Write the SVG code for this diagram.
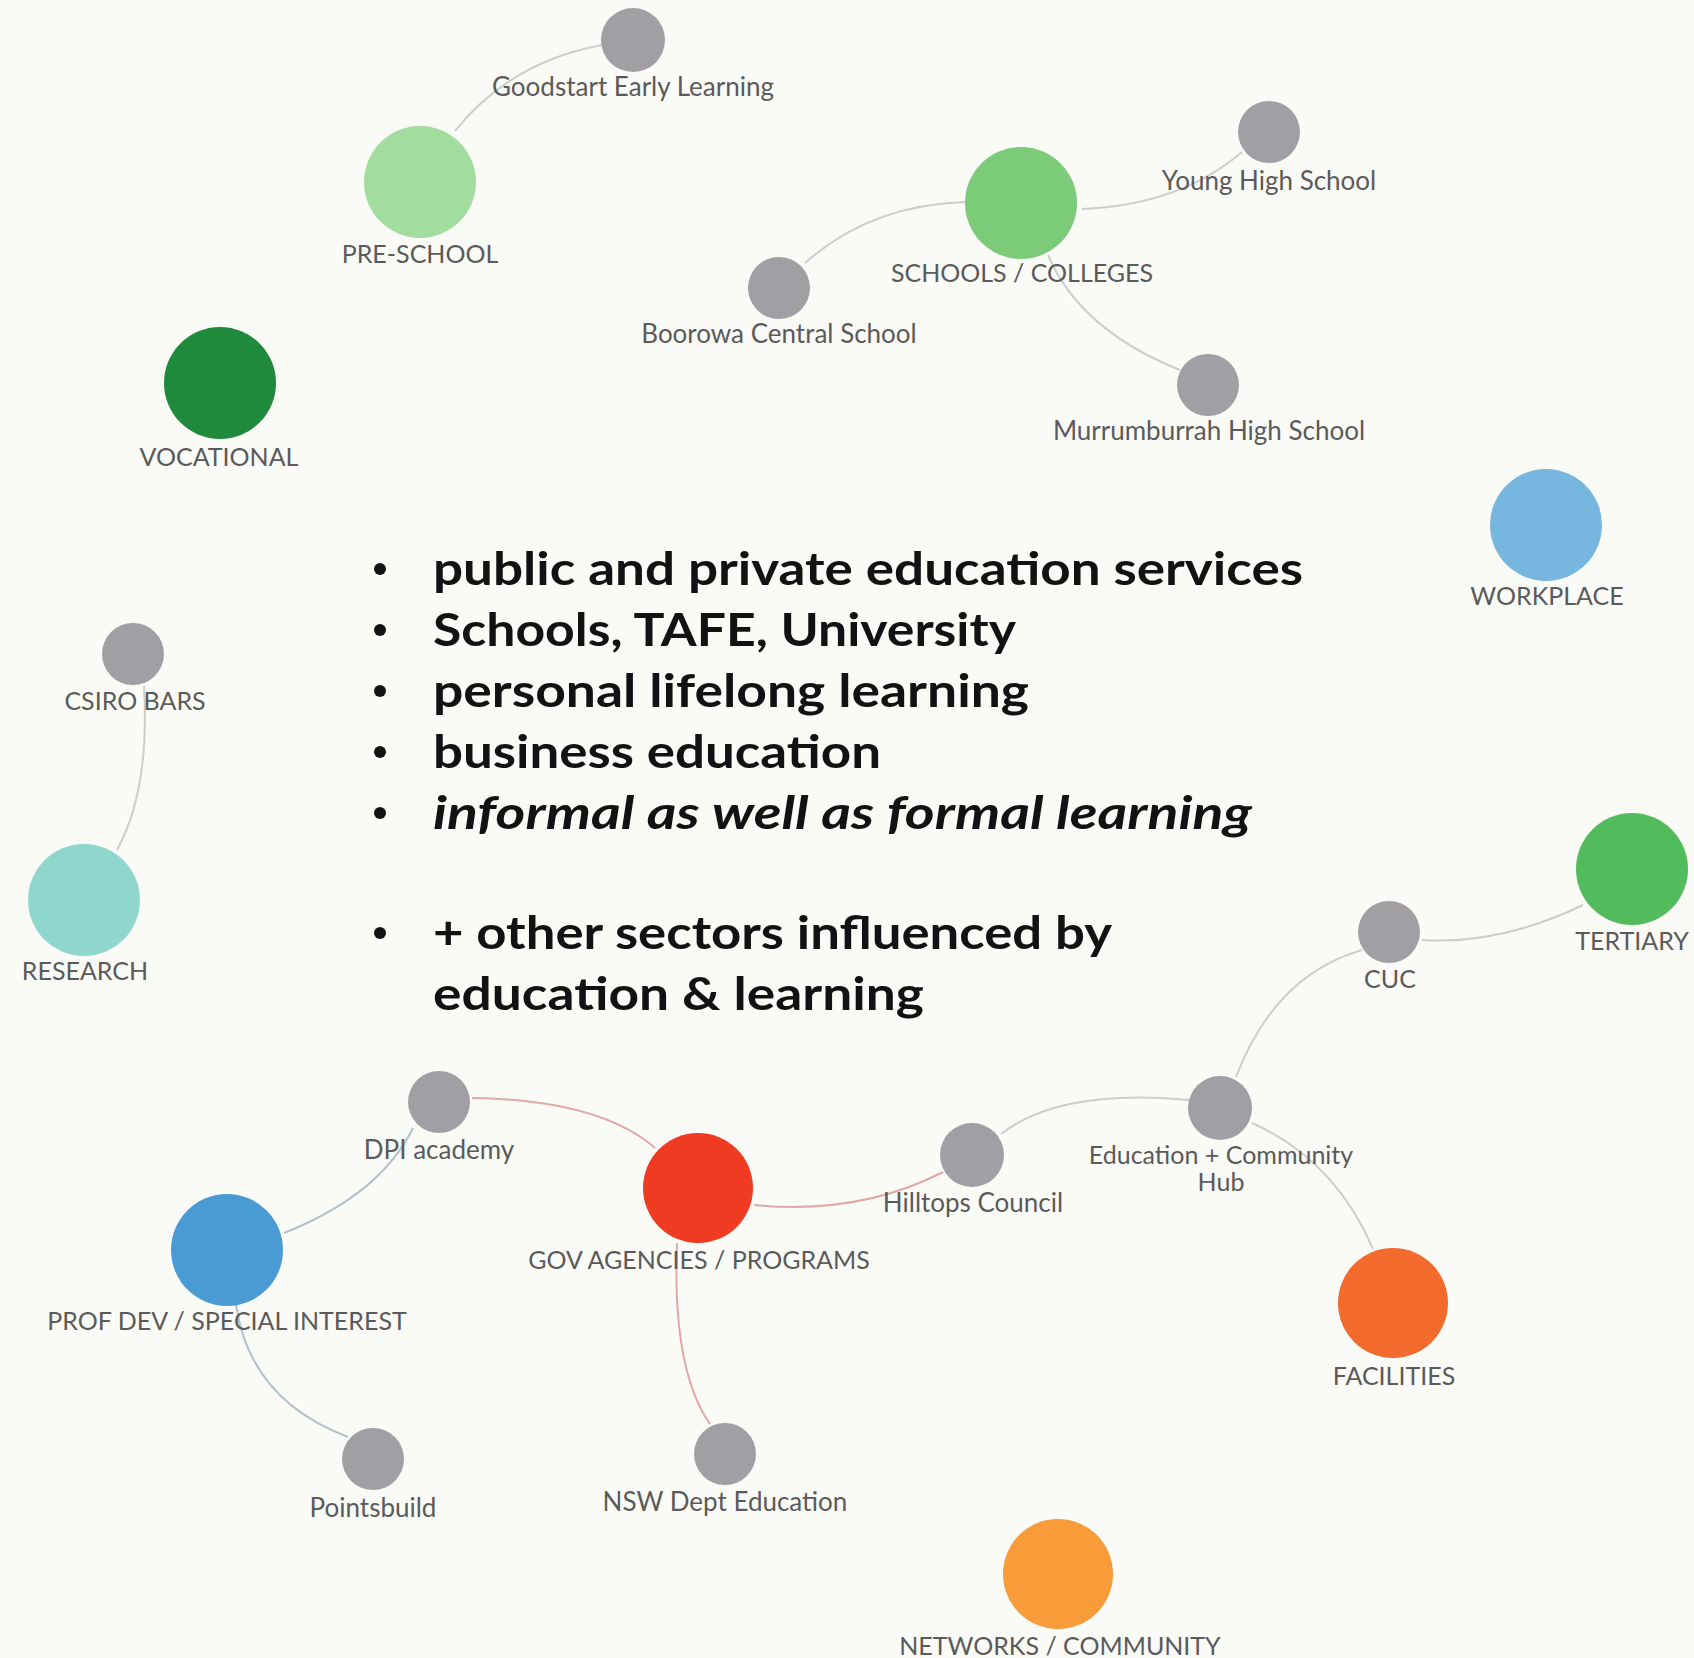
<svg xmlns="http://www.w3.org/2000/svg" width="1694" height="1658" viewBox="0 0 1694 1658">
<style>
.bg{fill:#fafaf7}
.edge{fill:none;stroke:#cdcdcd;stroke-width:2}
.edge.red{stroke:#dfa9a6}
.edge.blue{stroke:#b4bfcc}
.g{fill:#a19fa4}
.lbl{font-family:Lato,"Open Sans","Liberation Sans",sans-serif;font-size:26px;fill:#5a5a5a;text-anchor:middle}
.cap{font-size:25px}
.sm{font-size:25px}
.body{font-family:Lato,"Open Sans","Liberation Sans",sans-serif;font-weight:bold;font-size:46px;fill:#121212}
.it{font-style:italic}
.dot{fill:#141414}
</style>
<rect class="bg" x="0" y="0" width="1694" height="1658"/>

<g id="edges">
  <path class="edge" d="M455 131 Q510 62 602 45"/>
  <path class="edge" d="M1082 209 Q1180 205 1242 152"/>
  <path class="edge" d="M965 202 Q870 205 805 263"/>
  <path class="edge" d="M1048 255 Q1080 330 1180 370"/>
  <path class="edge" d="M144 686 Q150 790 117 850"/>
  <path class="edge" d="M1422 940 Q1500 945 1583 905"/>
  <path class="edge" d="M1236 1077 Q1275 975 1362 950"/>
  <path class="edge" d="M1252 1123 Q1335 1160 1373 1249"/>
  <path class="edge" d="M1001 1134 Q1060 1088 1189 1100"/>
  <path class="edge red" d="M754 1205 Q860 1215 943 1172"/>
  <path class="edge red" d="M472 1098 Q600 1100 655 1148"/>
  <path class="edge red" d="M677 1243 Q672 1370 710 1424"/>
  <path class="edge blue" d="M284 1233 Q380 1195 413 1128"/>
  <path class="edge blue" d="M236 1305 Q250 1400 348 1437"/>
</g>

<g id="text-bullets">
  <circle class="dot" cx="380" cy="569" r="6"/>
  <circle class="dot" cx="380" cy="630" r="6"/>
  <circle class="dot" cx="380" cy="691" r="6"/>
  <circle class="dot" cx="380" cy="752" r="6"/>
  <circle class="dot" cx="380" cy="813" r="6"/>
  <circle class="dot" cx="380" cy="933" r="6"/>
  <text class="body" x="433" y="585" textLength="870" lengthAdjust="spacingAndGlyphs">public and private education services</text>
  <text class="body" x="433" y="646" textLength="583" lengthAdjust="spacingAndGlyphs">Schools, TAFE, University</text>
  <text class="body" x="433" y="707" textLength="596" lengthAdjust="spacingAndGlyphs">personal lifelong learning</text>
  <text class="body" x="433" y="768" textLength="448" lengthAdjust="spacingAndGlyphs">business education</text>
  <text class="body it" x="433" y="829" textLength="819" lengthAdjust="spacingAndGlyphs">informal as well as formal learning</text>
  <text class="body" x="433" y="949" textLength="679" lengthAdjust="spacingAndGlyphs">+ other sectors influenced by</text>
  <text class="body" x="433" y="1010" textLength="491" lengthAdjust="spacingAndGlyphs">education &amp; learning</text>
</g>

<g id="node-goodstart"><circle class="g" cx="633" cy="40" r="32"/><text class="lbl" x="633" y="96">Goodstart Early Learning</text></g>
<g id="node-preschool"><circle cx="420" cy="182" r="56" fill="#a2dd9f"/><text class="lbl cap" x="420" y="263">PRE-SCHOOL</text></g>
<g id="node-schools"><circle cx="1021" cy="203" r="56" fill="#7ccb78"/><text class="lbl cap" x="1022" y="282">SCHOOLS / COLLEGES</text></g>
<g id="node-young"><circle class="g" cx="1269" cy="132" r="31"/><text class="lbl" x="1269" y="190">Young High School</text></g>
<g id="node-boorowa"><circle class="g" cx="779" cy="288" r="31"/><text class="lbl" x="779" y="343">Boorowa Central School</text></g>
<g id="node-murrumburrah"><circle class="g" cx="1208" cy="385" r="31"/><text class="lbl" x="1209" y="440">Murrumburrah High School</text></g>
<g id="node-vocational"><circle cx="220" cy="383" r="56" fill="#1f8a3c"/><text class="lbl cap" x="219" y="466">VOCATIONAL</text></g>
<g id="node-workplace"><circle cx="1546" cy="525" r="56" fill="#76b6df"/><text class="lbl cap" x="1547" y="605">WORKPLACE</text></g>
<g id="node-csiro"><circle class="g" cx="133" cy="654" r="31"/><text class="lbl cap" x="135" y="710">CSIRO BARS</text></g>
<g id="node-research"><circle cx="84" cy="900" r="56" fill="#8fd7cd"/><text class="lbl cap" x="85" y="980">RESEARCH</text></g>
<g id="node-tertiary"><circle cx="1632" cy="869" r="56" fill="#52bb5c"/><text class="lbl cap" x="1632" y="950">TERTIARY</text></g>
<g id="node-cuc"><circle class="g" cx="1389" cy="932" r="31"/><text class="lbl cap" x="1390" y="988">CUC</text></g>
<g id="node-hub"><circle class="g" cx="1220" cy="1108" r="32"/><text class="lbl sm" x="1221" y="1164">Education + Community</text><text class="lbl sm" x="1221" y="1191">Hub</text></g>
<g id="node-hilltops"><circle class="g" cx="972" cy="1155" r="32"/><text class="lbl" x="973" y="1212">Hilltops Council</text></g>
<g id="node-dpi"><circle class="g" cx="439" cy="1102" r="31"/><text class="lbl" x="439" y="1159">DPI academy</text></g>
<g id="node-gov"><circle cx="698" cy="1188" r="55" fill="#ef3b22"/><text class="lbl cap" x="699" y="1269">GOV AGENCIES / PROGRAMS</text></g>
<g id="node-profdev"><circle cx="227" cy="1250" r="56" fill="#4a9bd4"/><text class="lbl cap" x="227" y="1330">PROF DEV / SPECIAL INTEREST</text></g>
<g id="node-facilities"><circle cx="1393" cy="1303" r="55" fill="#f26b2c"/><text class="lbl cap" x="1394" y="1385">FACILITIES</text></g>
<g id="node-pointsbuild"><circle class="g" cx="373" cy="1459" r="31"/><text class="lbl" x="373" y="1517">Pointsbuild</text></g>
<g id="node-nsw"><circle class="g" cx="725" cy="1454" r="31"/><text class="lbl" x="725" y="1511">NSW Dept Education</text></g>
<g id="node-networks"><circle cx="1058" cy="1574" r="55" fill="#f89b39"/><text class="lbl cap" x="1060" y="1655">NETWORKS / COMMUNITY</text></g>
</svg>
